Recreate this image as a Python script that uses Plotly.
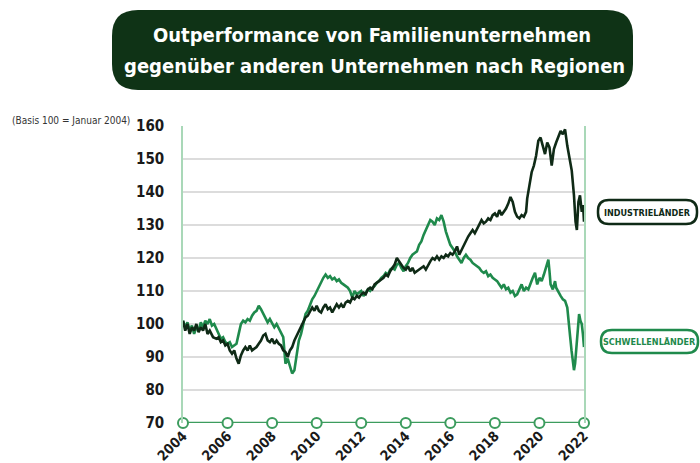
import plotly.graph_objects as go

# ---------------- data ----------------
ind_x = [2004.0, 2004.1, 2004.2, 2004.3, 2004.4, 2004.5, 2004.6, 2004.7, 2004.8, 2004.9,
         2005.0, 2005.1, 2005.2, 2005.35, 2005.5, 2005.6, 2005.7, 2005.8, 2005.9,
         2006.0, 2006.1, 2006.2, 2006.3, 2006.4, 2006.5, 2006.6, 2006.7, 2006.8, 2006.9,
         2007.0, 2007.1, 2007.2, 2007.3, 2007.4, 2007.5, 2007.6, 2007.7, 2007.8, 2007.9,
         2008.0, 2008.1, 2008.2, 2008.3, 2008.4, 2008.5, 2008.6, 2008.7, 2008.8, 2008.9,
         2009.0, 2009.1, 2009.2, 2009.3, 2009.4, 2009.5, 2009.6, 2009.7, 2009.8, 2009.9,
         2010.0, 2010.1, 2010.2, 2010.3, 2010.4, 2010.5, 2010.6, 2010.7, 2010.8, 2010.9,
         2011.0, 2011.1, 2011.2, 2011.3, 2011.4, 2011.5, 2011.6, 2011.7, 2011.8, 2011.9,
         2012.0, 2012.1, 2012.2, 2012.3, 2012.4, 2012.5, 2012.6, 2012.7, 2012.8, 2012.9,
         2013.0, 2013.1, 2013.2, 2013.3, 2013.4, 2013.5, 2013.6, 2013.7, 2013.8, 2013.9,
         2014.0, 2014.1, 2014.2, 2014.3, 2014.4, 2014.5, 2014.6, 2014.7, 2014.8, 2014.9,
         2015.0, 2015.1, 2015.2, 2015.3, 2015.4, 2015.5, 2015.6, 2015.7, 2015.8, 2015.9,
         2016.0, 2016.1, 2016.2, 2016.3, 2016.4, 2016.5, 2016.6, 2016.7, 2016.8, 2016.9,
         2017.0, 2017.1, 2017.2, 2017.3, 2017.4, 2017.5, 2017.6, 2017.7, 2017.8, 2017.9,
         2018.0, 2018.1, 2018.2, 2018.3, 2018.4, 2018.5, 2018.6, 2018.7, 2018.8, 2018.9,
         2019.0, 2019.1, 2019.2, 2019.3, 2019.4, 2019.45, 2019.55, 2019.65, 2019.75, 2019.85,
         2019.95, 2020.05, 2020.15, 2020.25, 2020.35, 2020.45, 2020.55, 2020.65, 2020.75, 2020.85,
         2020.95, 2021.05, 2021.15, 2021.25, 2021.35, 2021.45, 2021.55, 2021.62, 2021.68, 2021.75,
         2021.82, 2021.9, 2021.96, 2022.0]
ind_y = [101, 98, 100, 97, 99, 98, 100, 97.5, 99, 98,
         100, 97, 98, 96, 95.5, 96, 94.5, 95, 93.5,
         94, 92, 91, 92, 89.5, 88, 90.5, 92, 93, 92,
         93.5, 92, 92.5, 93, 94, 95, 96.5, 97, 95, 94.5,
         95.5, 94, 95, 94, 93.5, 92, 91.5, 90, 92, 93,
         95, 96.5, 98, 99.5, 101, 102, 102.5, 104, 105, 104,
         105.5, 104, 103.5, 105, 106, 104.5, 105, 103.5, 105, 106,
         105, 106, 105, 106.5, 107, 106.5, 108, 107.5, 108.5, 108,
         109, 109.5, 109, 110.5, 111, 110.5, 112, 112.5, 113, 113.5,
         114, 115, 114.5, 116, 117, 118, 120, 119, 118, 117,
         116.5, 117.5, 116, 117, 115.5, 116, 116.5, 117, 117.5, 116.5,
         118, 119, 120, 119.5, 120.5, 119.5, 120.5, 120, 121, 120.5,
         121.5, 121, 122, 123.5, 121, 122.5, 124, 125, 126.5, 127.5,
         128.5, 127.5, 129, 130, 131.5, 130.5, 131, 132, 131.5, 133,
         133.5, 132.5, 134.5, 133, 134, 135, 136.5, 138.5, 137, 134,
         132.5, 132, 133, 132.5, 134, 138, 142, 146, 148, 151,
         155.5, 156.5, 154, 151.5, 155, 153.5, 148, 153, 155, 156.5,
         158.5, 157.5, 159, 154, 150, 146.5, 139, 131, 128.5, 137,
         139, 134, 136, 131]

em_x = [2004.0, 2004.1, 2004.2, 2004.3, 2004.4, 2004.5, 2004.6, 2004.7, 2004.8, 2004.9,
        2005.0, 2005.1, 2005.2, 2005.3, 2005.4, 2005.5, 2005.6, 2005.7, 2005.8, 2005.9,
        2006.0, 2006.1, 2006.2, 2006.3, 2006.4, 2006.5, 2006.6, 2006.7, 2006.8, 2006.9,
        2007.0, 2007.1, 2007.2, 2007.3, 2007.4, 2007.5, 2007.6, 2007.7, 2007.8, 2007.9,
        2008.0, 2008.1, 2008.2, 2008.3, 2008.4, 2008.5, 2008.55, 2008.6, 2008.7, 2008.8,
        2008.9, 2009.0, 2009.1, 2009.2, 2009.3, 2009.4, 2009.5, 2009.6, 2009.7, 2009.8,
        2009.9, 2010.0, 2010.1, 2010.2, 2010.3, 2010.4, 2010.5, 2010.6, 2010.7, 2010.8,
        2010.9, 2011.0, 2011.1, 2011.2, 2011.3, 2011.4, 2011.5, 2011.6, 2011.7, 2011.8,
        2011.9, 2012.0, 2012.1, 2012.2, 2012.3, 2012.4, 2012.5, 2012.6, 2012.7, 2012.8,
        2012.9, 2013.0, 2013.1, 2013.2, 2013.3, 2013.4, 2013.5, 2013.6, 2013.7, 2013.8,
        2013.9, 2014.0, 2014.1, 2014.2, 2014.3, 2014.4, 2014.5, 2014.6, 2014.7, 2014.8,
        2014.9, 2015.0, 2015.1, 2015.2, 2015.3, 2015.4, 2015.5, 2015.6, 2015.7, 2015.8,
        2015.9, 2016.0, 2016.1, 2016.2, 2016.3, 2016.4, 2016.5, 2016.6, 2016.7, 2016.8,
        2016.9, 2017.0, 2017.1, 2017.2, 2017.3, 2017.4, 2017.5, 2017.6, 2017.7, 2017.8,
        2017.9, 2018.0, 2018.1, 2018.2, 2018.3, 2018.4, 2018.5, 2018.6, 2018.7, 2018.8,
        2018.9, 2019.0, 2019.1, 2019.2, 2019.3, 2019.4, 2019.5, 2019.6, 2019.7, 2019.8,
        2019.9, 2020.0, 2020.1, 2020.2, 2020.3, 2020.4, 2020.45, 2020.5, 2020.6, 2020.7,
        2020.75, 2020.85, 2020.95, 2021.05, 2021.15, 2021.25, 2021.32, 2021.38, 2021.44, 2021.5,
        2021.55, 2021.6, 2021.67, 2021.72, 2021.78, 2021.84, 2021.9, 2021.95, 2022.0]
em_y = [101, 99, 100.5, 98, 99.5, 97, 99, 98, 100.5, 99,
        101, 100, 101.5, 99.5, 100, 98.5, 97, 95.5, 96, 94.5,
        94, 94.5, 93, 93.5, 94, 97, 100, 101, 100.5, 101.5,
        101, 102.5, 103.5, 104, 105.5, 104.5, 103, 102, 100.5, 101.5,
        100, 99, 100, 98.5, 97.5, 96, 92, 88, 89.5, 87,
        85, 86, 90, 95, 97, 100, 103, 104, 106, 107.5,
        108.5, 110, 111, 112.5, 114, 115, 114, 114.5, 113.5, 114,
        113, 113.5, 112.5, 112, 111.5, 111, 110, 108, 110, 109,
        109.5, 110, 108.5, 109.5, 110.5, 110, 111, 111.5, 112.5, 113,
        114, 114.5, 115.5, 115, 116.5, 117, 116.5, 118, 118.5, 117,
        116, 117.5, 118.5, 120, 121, 121.5, 122, 124, 125, 127,
        128.5, 130, 131.5, 131, 130, 132, 131.5, 133, 131, 128,
        126, 124, 123, 122, 120.5, 119.5, 118.5, 120, 121, 120,
        119.5, 118.5, 118, 117.5, 117, 116, 115.5, 116, 114.5, 115,
        114, 113.5, 113, 112, 111, 112, 110.5, 111, 109.5, 110,
        108.5, 109, 110.5, 112, 110, 111, 110.5, 112.5, 114, 115.5,
        112, 114, 113, 115, 117, 119.5, 116, 112, 110.5, 113,
        111, 109.5, 108.5, 107.5, 107, 105, 101, 96, 92, 88.5,
        86, 88, 94, 99, 103, 101, 100, 97, 93]

year_ticks = [2004, 2006, 2008, 2010, 2012, 2014, 2016, 2018, 2020, 2022]
y_ticks = [70, 80, 90, 100, 110, 120, 130, 140, 150, 160]
series_names = ["INDUSTRIELÄNDER", "SCHWELLENLÄNDER"]
title_lines = ["Outperformance von Familienunternehmen",
               "gegenüber anderen Unternehmen nach Regionen"]
axis_note = "(Basis 100 = Januar 2004)"

# ---------------- styling ----------------
DARK = "#0f2a16"
GREEN = "#1f8a4c"
AXGREEN = "#3c9c5e"
LIGHTGREEN = "#a9d8b8"
FONT = "'DejaVu Sans Condensed', 'Roboto Condensed', Roboto, sans-serif"

W, H = 700, 463
# plot area in window pixels
PX0, PX1, PY0, PY1 = 183, 584, 126, 423
L, T = PX0, PY0
R, B = W - PX1, H - PY1
PW, PH = PX1 - PX0, PY1 - PY0


def px2paper(x, y):
    return (x - PX0) / PW, (PY1 - y) / PH


def rounded_rect(x0, y0, x1, y1, r):
    # window-pixel coords -> paper path with rounded corners
    rx, ry = r / PW, r / PH
    a0, b1 = px2paper(x0, y0)
    a1, b0 = px2paper(x1, y1)
    return (f"M {a0+rx},{b1} L {a1-rx},{b1} Q {a1},{b1} {a1},{b1-ry} "
            f"L {a1},{b0+ry} Q {a1},{b0} {a1-rx},{b0} L {a0+rx},{b0} "
            f"Q {a0},{b0} {a0},{b0+ry} L {a0},{b1-ry} Q {a0},{b1} {a0+rx},{b1} Z")


fig = go.Figure()

fig.add_trace(go.Scatter(x=em_x, y=em_y, mode="lines", name=series_names[1],
                         line=dict(color=GREEN, width=2.6), hoverinfo="skip"))
fig.add_trace(go.Scatter(x=ind_x, y=ind_y, mode="lines", name=series_names[0],
                         line=dict(color=DARK, width=2.6), hoverinfo="skip"))
# bottom axis with circle markers at the year ticks
fig.add_trace(go.Scatter(x=year_ticks, y=[y_ticks[0]] * len(year_ticks), mode="lines+markers",
                         line=dict(color=AXGREEN, width=2.5),
                         marker=dict(size=10, color="white", line=dict(color=AXGREEN, width=2)),
                         cliponaxis=False, hoverinfo="skip"))

shapes = [
    dict(type="path", xref="paper", yref="paper", path=rounded_rect(112, 10, 633, 90, 26),
         fillcolor="#0f3316", line=dict(width=0), layer="below"),
    dict(type="path", xref="paper", yref="paper", path=rounded_rect(598, 200, 697, 224, 11),
         fillcolor="white", line=dict(color=DARK, width=2.5)),
    dict(type="path", xref="paper", yref="paper", path=rounded_rect(601, 330, 698, 353, 11),
         fillcolor="white", line=dict(color=GREEN, width=2.5)),
]

t1x, t1y = px2paper(372, 35)
t2x, t2y = px2paper(374, 66)
nx, ny = px2paper(10, 121)
ix, iy = px2paper(647.5, 212.5)
ex, ey = px2paper(649.5, 342)
annotations = [
    dict(text=title_lines[0], x=t1x, y=t1y, xref="paper", yref="paper", showarrow=False,
         xanchor="center", yanchor="middle",
         font=dict(family=FONT, size=20, color="white", weight="bold")),
    dict(text=title_lines[1], x=t2x, y=t2y, xref="paper", yref="paper", showarrow=False,
         xanchor="center", yanchor="middle",
         font=dict(family=FONT, size=20, color="white", weight="bold")),
    dict(text=axis_note, x=nx, y=ny, xref="paper", yref="paper", showarrow=False,
         xanchor="left", yanchor="middle", font=dict(family=FONT, size=10, color="#333333")),
    dict(text=series_names[0], x=ix, y=iy, xref="paper", yref="paper", showarrow=False,
         xanchor="center", yanchor="middle",
         font=dict(family=FONT, size=9, color=DARK, weight="bold")),
    dict(text=series_names[1], x=ex, y=ey, xref="paper", yref="paper", showarrow=False,
         xanchor="center", yanchor="middle",
         font=dict(family=FONT, size=9, color=GREEN, weight="bold")),
]

fig.update_layout(
    width=W, height=H,
    margin=dict(l=L, r=R, t=T, b=B, pad=0, autoexpand=False),
    paper_bgcolor="white", plot_bgcolor="white",
    showlegend=False,
    shapes=shapes, annotations=annotations,
    xaxis=dict(range=[2004, 2022], tickvals=year_ticks, ticktext=[str(v) for v in year_ticks],
               tickangle=-45, showgrid=False, zeroline=False, showline=False, automargin=False,
               ticks="", ticklabelstandoff=1,
               tickfont=dict(family=FONT, size=14, color="#1a1a1a", weight="bold")),
    yaxis=dict(range=[70, 160], tickvals=y_ticks, showgrid=True, gridcolor="#dcdcdc",
               gridwidth=2, zeroline=False, showline=True, mirror=True, automargin=False,
               linecolor=LIGHTGREEN, linewidth=1.5, ticks="", ticklabelstandoff=14,
               tickfont=dict(family=FONT, size=15, color="#1a1a1a", weight="bold")),
)

# remove the page's default body margin so the figure sits at the window's top-left corner
page_fix = ("document.body.style.margin='0';"
            "document.documentElement.style.overflow='hidden';"
            "document.body.style.overflow='hidden';")

fig.write_html("out.html", post_script=page_fix, config={"displayModeBar": False})
